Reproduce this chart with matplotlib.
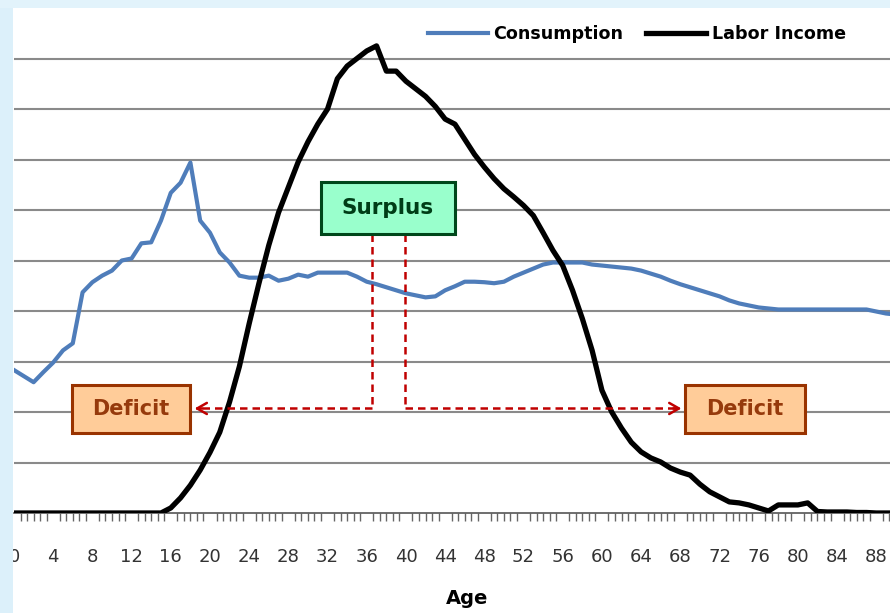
import numpy as np
import matplotlib
matplotlib.use("Agg")
import matplotlib.pyplot as plt
from matplotlib.patches import Rectangle

ages = list(range(0, 91))
consumption = [2.83, 2.71, 2.59, 2.79, 2.98, 3.22, 3.36, 4.37, 4.57, 4.70,
               4.80, 5.00, 5.04, 5.34, 5.36, 5.79, 6.34, 6.54, 6.94, 5.79,
               5.55, 5.16, 4.96, 4.70, 4.66, 4.66, 4.70, 4.60, 4.64, 4.72,
               4.68, 4.76, 4.76, 4.76, 4.76, 4.68, 4.58, 4.53, 4.47, 4.41,
               4.35, 4.31, 4.27, 4.29, 4.41, 4.49, 4.58, 4.58, 4.57, 4.55,
               4.58, 4.68, 4.76, 4.84, 4.92, 4.96, 4.96, 4.96, 4.96, 4.92,
               4.90, 4.88, 4.86, 4.84, 4.80, 4.74, 4.68, 4.60, 4.53, 4.47,
               4.41, 4.35, 4.29, 4.21, 4.15, 4.11, 4.07, 4.05, 4.03, 4.03,
               4.03, 4.03, 4.03, 4.03, 4.03, 4.03, 4.03, 4.03, 3.99, 3.95,
               3.93]
labor_income = [0, 0, 0, 0, 0, 0, 0, 0, 0, 0,
                0, 0, 0, 0, 0, 0, 0.10, 0.30, 0.55, 0.85,
                1.20, 1.60, 2.20, 2.90, 3.75, 4.55, 5.30, 5.95, 6.45, 6.95,
                7.35, 7.70, 8.00, 8.60, 8.85, 9.00, 9.15, 9.25, 8.75, 8.75,
                8.55, 8.40, 8.25, 8.05, 7.80, 7.70, 7.40, 7.10, 6.85, 6.62,
                6.42, 6.26, 6.09, 5.89, 5.55, 5.20, 4.90, 4.41, 3.85, 3.22,
                2.43, 2.00, 1.68, 1.40, 1.21, 1.09, 1.01, 0.89, 0.81, 0.75,
                0.57, 0.42, 0.32, 0.22, 0.20, 0.16, 0.10, 0.04, 0.16, 0.16,
                0.16, 0.20, 0.03, 0.02, 0.02, 0.02, 0.01, 0.01, 0, 0,
                0]
tick_ages = list(range(0, 89, 4))
series_names = ["Consumption", "Labor Income"]

W, H = 890, 613
fig = plt.figure(figsize=(W / 100, H / 100), dpi=100, facecolor="white")

# light blue frame strips
fig.patches.append(Rectangle((0, 0), 13 / W, 1, transform=fig.transFigure,
                             facecolor="#dcf0fa", edgecolor="none", zorder=0))
fig.patches.append(Rectangle((0, 1 - 8 / H), 1, 8 / H, transform=fig.transFigure,
                             facecolor="#e2f3fb", edgecolor="none", zorder=0))

ax = fig.add_axes([14 / W, (H - 513) / H, (W - 14) / W, (513 - 8) / H])
ax.set_facecolor("white")
ax.set_xlim(0, 89.4)
ax.set_ylim(0, 10)

for v in range(1, 10):
    ax.axhline(v, color="#8a8a8a", lw=1.5, zorder=1)

ax.plot(ages, consumption, color="#4F7DBA", lw=3.0, zorder=3,
        label=series_names[0], solid_joinstyle="round")
ax.plot(ages, labor_income, color="black", lw=3.8, zorder=4,
        label=series_names[1], solid_joinstyle="round")

for s in ["top", "right", "left"]:
    ax.spines[s].set_visible(False)
ax.spines["bottom"].set_color("#555555")
ax.spines["bottom"].set_linewidth(1.2)
ax.set_yticks([])
ax.set_xticks(tick_ages)
ax.set_xticklabels([str(a) for a in tick_ages], fontsize=13, color="#333333")
ax.tick_params(axis="x", which="major", length=0, pad=25)
ax.set_xticks(np.arange(2 / 3, 89.4, 2 / 3), minor=True)
ax.tick_params(axis="x", which="minor", length=6, width=1.0, color="#666666")

fig.text(467 / W, 1 - 598 / H, "Age", fontsize=14, fontweight="bold",
         ha="center", va="center")

leg = ax.legend(loc="upper right", bbox_to_anchor=(846 / W, 1 - 25 / H),
                bbox_transform=fig.transFigure, ncol=2, frameon=False,
                prop={"weight": "bold", "size": 12.6},
                handlelength=3.4, handletextpad=0.35, columnspacing=1.3,
                borderpad=0, borderaxespad=0)

# annotation geometry (data coords)
red = "#C00000"
y_arrow = 2.07
x_l, x_r = 36.5, 39.9
box_bottom = 5.53
ax.plot([x_l, x_l], [box_bottom, y_arrow], color=red, lw=1.8, ls=(0, (3, 2)), zorder=5)
ax.plot([x_r, x_r], [box_bottom, y_arrow], color=red, lw=1.8, ls=(0, (3, 2)), zorder=5)
ax.plot([x_l, 18.6], [y_arrow, y_arrow], color=red, lw=1.8, ls=(0, (3, 2)), zorder=5)
ax.plot([x_r, 67.9], [y_arrow, y_arrow], color=red, lw=1.8, ls=(0, (3, 2)), zorder=5)
ax.annotate("", xy=(18.15, y_arrow), xytext=(19.5, y_arrow),
            arrowprops=dict(arrowstyle="->,head_length=0.7,head_width=0.4",
                            color=red, lw=1.8), zorder=6)
ax.annotate("", xy=(68.4, y_arrow), xytext=(67.0, y_arrow),
            arrowprops=dict(arrowstyle="->,head_length=0.7,head_width=0.4",
                            color=red, lw=1.8), zorder=6)

def box(x0, x1, y0, y1, fc, ec, text, tc, fs):
    ax.add_patch(Rectangle((x0, y0), x1 - x0, y1 - y0, facecolor=fc,
                           edgecolor=ec, lw=2.2, zorder=7))
    ax.text((x0 + x1) / 2, (y0 + y1) / 2, text, ha="center", va="center",
            fontsize=fs, fontweight="bold", color=tc, zorder=8)

box(31.33, 45.0, 5.53, 6.56, "#99FFCC", "#00471B", "Surplus", "#003D17", 15.5)
box(5.92, 17.96, 1.58, 2.53, "#FFCC99", "#993300", "Deficit", "#963A0C", 15)
box(68.47, 80.71, 1.58, 2.53, "#FFCC99", "#993300", "Deficit", "#963A0C", 15)

fig.savefig("out.png", dpi=100, facecolor=fig.get_facecolor())
